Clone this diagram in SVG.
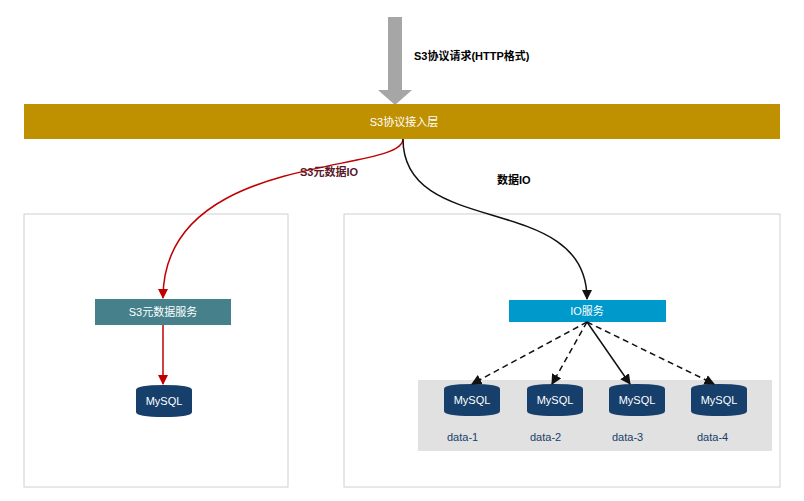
<svg xmlns="http://www.w3.org/2000/svg" width="804" height="501" viewBox="0 0 804 501">
<style>
text{font-family:"Liberation Sans","Noto Sans CJK SC",sans-serif;font-size:11px}
.w{fill:#fff}
.b{font-weight:bold}
.panel{fill:#fff;stroke:#d0d0d0;stroke-width:1}
.db{fill:#173f6b}
.k{fill:none;stroke:#111;stroke-width:1.5}
</style>
<defs>
<marker id="ak" viewBox="0 0 10 10" refX="9" refY="5" markerWidth="7" markerHeight="7" orient="auto"><path d="M0,0L10,5L0,10z" fill="#111"/></marker>
<marker id="ar" viewBox="0 0 10 10" refX="9" refY="5" markerWidth="7" markerHeight="7" orient="auto"><path d="M0,0L10,5L0,10z" fill="#c00000"/></marker>
<symbol id="cyl" viewBox="0 0 56 32"><path d="M0,5Q0,0 28,0Q56,0 56,5L56,27Q56,32 28,32Q0,32 0,27z"/></symbol>
</defs>
<rect width="804" height="501" fill="#fff"/>
<g id="panel-left"><rect class="panel" x="24" y="214" width="264" height="273"/></g>
<g id="panel-right"><rect class="panel" x="344" y="214" width="436" height="273"/></g>
<g id="data-area"><rect x="418" y="380" width="354" height="71" fill="#e1e1e1"/></g>
<g id="input-arrow"><path d="M388,17H402V90H412L395,105L378,90H388z" fill="#a6a6a6"/>
<text class="b" x="414" y="60">S3协议请求(HTTP格式)</text></g>
<g id="access-layer"><rect x="24" y="104" width="756" height="35" fill="#bf9000"/>
<text class="w" x="404" y="126" text-anchor="middle">S3协议接入层</text></g>
<g id="meta-service"><rect x="95" y="299" width="136" height="26" fill="#45808b"/>
<text class="w" x="163" y="316" text-anchor="middle">S3元数据服务</text></g>
<g id="meta-db" class="db"><use href="#cyl" x="136" y="385" width="56" height="32"/>
<text class="w" x="164" y="405" text-anchor="middle">MySQL</text></g>
<g id="io-service"><rect x="509" y="300" width="157" height="22" fill="#0099cc"/>
<text class="w" x="587" y="315" text-anchor="middle">IO服务</text></g>
<g id="db1" class="db"><use href="#cyl" x="444" y="384" width="56" height="32"/><text class="w" x="472" y="404" text-anchor="middle">MySQL</text><text x="447" y="441">data-1</text></g>
<g id="db2" class="db"><use href="#cyl" x="527" y="384" width="56" height="32"/><text class="w" x="555" y="404" text-anchor="middle">MySQL</text><text x="530" y="441">data-2</text></g>
<g id="db3" class="db"><use href="#cyl" x="609" y="384" width="56" height="32"/><text class="w" x="637" y="404" text-anchor="middle">MySQL</text><text x="612" y="441">data-3</text></g>
<g id="db4" class="db"><use href="#cyl" x="691" y="384" width="56" height="32"/><text class="w" x="719" y="404" text-anchor="middle">MySQL</text><text x="697" y="441">data-4</text></g>
<g id="connectors">
<path d="M403,139C403,175 163,150 163,298" fill="none" stroke="#c00000" stroke-width="1.5" marker-end="url(#ar)"/>
<text x="300" y="176" fill="#5a1a2a" class="b">S3元数据IO</text>
<path d="M163,325V384" fill="none" stroke="#c00000" stroke-width="1.5" marker-end="url(#ar)"/>
<path d="M403,139C403,240 587,190 587,299" class="k" marker-end="url(#ak)"/>
<text x="497" y="184" class="b">数据IO</text>
<path d="M587,322L472,384" class="k" stroke-dasharray="6,4" marker-end="url(#ak)"/>
<path d="M587,322L552,384" class="k" stroke-dasharray="6,4" marker-end="url(#ak)"/>
<path d="M587,322L630,384" class="k" marker-end="url(#ak)"/>
<path d="M587,322L714,384" class="k" stroke-dasharray="6,4" marker-end="url(#ak)"/>
</g>
</svg>
